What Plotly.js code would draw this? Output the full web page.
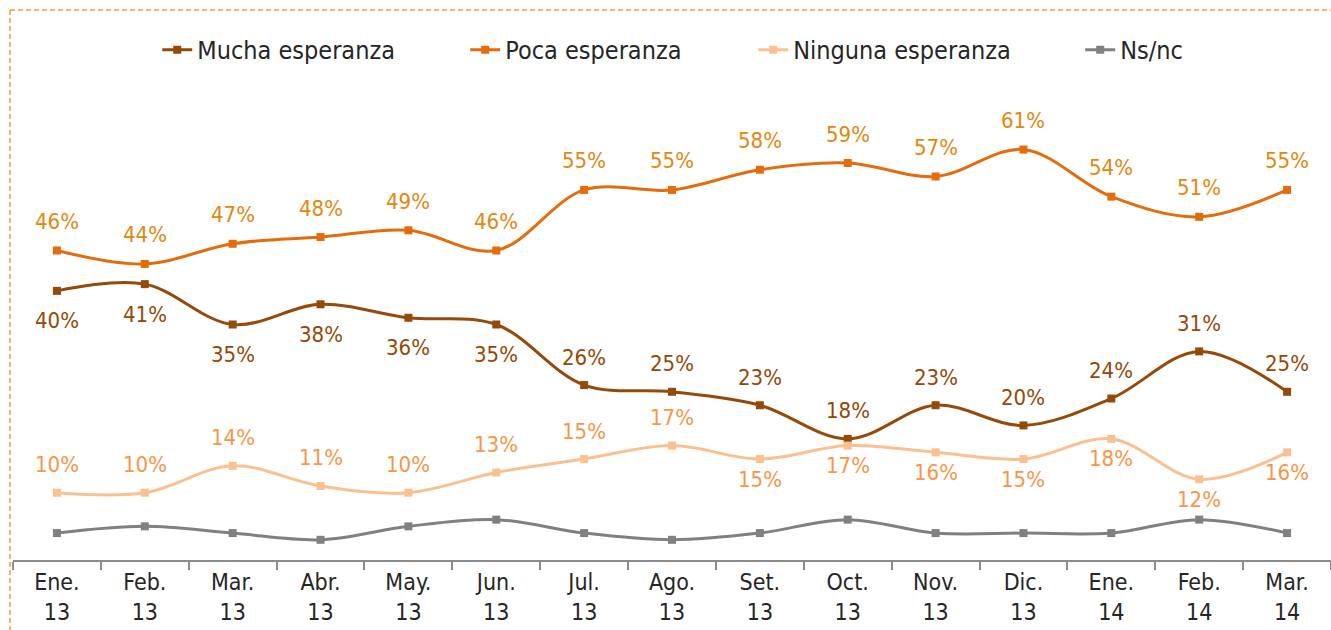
<!DOCTYPE html>
<html>
<head>
<meta charset="utf-8">
<script src="https://cdn.plot.ly/plotly-3.0.1.min.js"></script>
<style>
  html, body { margin: 0; padding: 0; background: #ffffff; }
  #chart { width: 1331px; height: 630px; }
</style>
</head>
<body>
<div id="chart"></div>
<script>
const categories = ['Ene. 13','Feb. 13','Mar. 13','Abr. 13','May. 13','Jun. 13','Jul. 13','Ago. 13','Set. 13','Oct. 13','Nov. 13','Dic. 13','Ene. 14','Feb. 14','Mar. 14'];
const tickLabels = ['Ene.<br>13','Feb.<br>13','Mar.<br>13','Abr.<br>13','May.<br>13','Jun.<br>13','Jul.<br>13','Ago.<br>13','Set.<br>13','Oct.<br>13','Nov.<br>13','Dic.<br>13','Ene.<br>14','Feb.<br>14','Mar.<br>14'];

const mucha    = [40, 41, 35, 38, 36, 35, 26, 25, 23, 18, 23, 20, 24, 31, 25];
const poca     = [46, 44, 47, 48, 49, 46, 55, 55, 58, 59, 57, 61, 54, 51, 55];
const ninguna  = [10, 10, 14, 11, 10, 13, 15, 17, 15, 17, 16, 15, 18, 12, 16];
const nsnc     = [4, 5, 4, 3, 5, 6, 4, 3, 4, 6, 4, 4, 4, 6, 4];

const seriesNames = ['Mucha esperanza', 'Poca esperanza', 'Ninguna esperanza', 'Ns/nc'];

// label placement (a = above, b = below)
const muchaLabelSide   = ['b','b','b','b','b','b','a','a','a','a','a','a','a','a','a'];
const pocaLabelSide    = ['a','a','a','a','a','a','a','a','a','a','a','a','a','a','a'];
const ningunaLabelSide = ['a','a','a','a','a','a','a','a','b','b','b','b','b','b','b'];

const FONT = "'DejaVu Sans Condensed', 'DejaVu Sans', sans-serif";

function trace(name, vals, color, legendWidth) {
  return {
    type: 'scatter', mode: 'lines+markers', name: name,
    x: categories, y: vals,
    line: { color: color, width: 3, shape: 'spline', smoothing: 1 },
    marker: { symbol: 'square', size: 8, color: color },
    legendwidth: legendWidth,
    hoverinfo: 'skip'
  };
}

const data = [
  trace(seriesNames[0], mucha, '#954A0A', 263),
  trace(seriesNames[1], poca, '#E46C0A', 243),
  trace(seriesNames[2], ninguna, '#FAC090', 282),
  trace(seriesNames[3], nsnc, '#808080', 80)
];

function labels(vals, sides, color, upShift, downShift) {
  return vals.map((v, i) => ({
    x: categories[i], y: v, xref: 'x', yref: 'y',
    text: v + '%', showarrow: false,
    yshift: sides[i] === 'a' ? upShift : -downShift,
    font: { family: FONT, size: 22, color: color }
  }));
}

const annotations = [].concat(
  labels(mucha, muchaLabelSide, '#974706', 28, 30),
  labels(poca, pocaLabelSide, '#E3870E', 29, 29),
  labels(ninguna, ningunaLabelSide, '#F79646', 28, 20)
);

const layout = {
  width: 1331, height: 630,
  margin: { l: 13, r: 0, t: 89, b: 70, pad: 0 },
  paper_bgcolor: '#ffffff', plot_bgcolor: '#ffffff',
  font: { family: FONT, color: '#262626' },
  showlegend: true,
  legend: {
    orientation: 'h', x: 0.507, xanchor: 'center', y: 1.083, yanchor: 'middle',
    font: { family: FONT, size: 25, color: '#262626' },
    entrywidthmode: 'pixels',
    bgcolor: 'rgba(0,0,0,0)'
  },
  xaxis: {
    type: 'category', range: [-0.5, 14.5],
    tickvals: categories, ticktext: tickLabels,
    tickson: 'boundaries', ticks: 'outside', ticklen: 8, tickwidth: 2, tickcolor: '#8C8C8C',
    showline: true, linecolor: '#8C8C8C', linewidth: 2,
    showgrid: false, zeroline: false,
    tickfont: { family: FONT, size: 23, color: '#262626' },
    fixedrange: true
  },
  yaxis: {
    range: [0, 70], visible: false, showgrid: false, zeroline: false, fixedrange: true
  },
  annotations: annotations,
  shapes: [
    { type: 'line', xref: 'paper', yref: 'paper', x0: -0.0023, x1: 1.02, y0: 1.1677, y1: 1.1677,
      line: { color: '#F79646', width: 1.5, dash: '5px,3px' } },
    { type: 'line', xref: 'paper', yref: 'paper', x0: -0.0023, x1: -0.0023, y0: 1.1677, y1: -0.2,
      line: { color: '#F79646', width: 1.5, dash: '5px,3px' } }
  ]
};

Plotly.newPlot('chart', data, layout, { displayModeBar: false, staticPlot: true });
</script>
</body>
</html>
